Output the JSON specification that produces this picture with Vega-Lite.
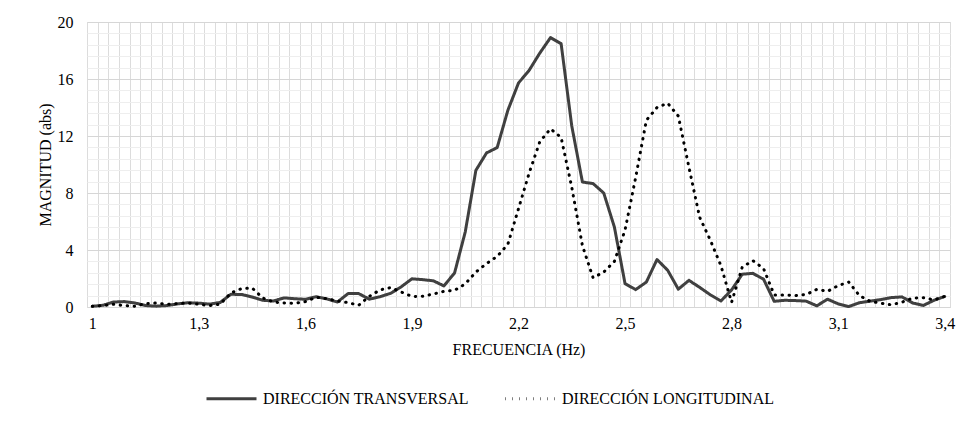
{
  "$schema": "https://vega.github.io/schema/vega-lite/v6.json",
  "width": 863,
  "height": 285,
  "autosize": "none",
  "padding": {"left": 87, "top": 22, "right": 18, "bottom": 114},
  "background": "white",
  "config": {"view": {"stroke": "#d9d9d9"}, "font": "Times New Roman, Liberation Serif, serif"},
  "data": {"values": [
    {"f":1.00,"DIRECCIÓN TRANSVERSAL":0.05,"DIRECCIÓN LONGITUDINAL":0.05},
    {"f":1.03,"DIRECCIÓN TRANSVERSAL":0.12,"DIRECCIÓN LONGITUDINAL":0.10},
    {"f":1.06,"DIRECCIÓN TRANSVERSAL":0.35,"DIRECCIÓN LONGITUDINAL":0.19},
    {"f":1.09,"DIRECCIÓN TRANSVERSAL":0.38,"DIRECCIÓN LONGITUDINAL":0.10},
    {"f":1.12,"DIRECCIÓN TRANSVERSAL":0.28,"DIRECCIÓN LONGITUDINAL":0.05},
    {"f":1.15,"DIRECCIÓN TRANSVERSAL":0.10,"DIRECCIÓN LONGITUDINAL":0.24},
    {"f":1.18,"DIRECCIÓN TRANSVERSAL":0.06,"DIRECCIÓN LONGITUDINAL":0.28},
    {"f":1.21,"DIRECCIÓN TRANSVERSAL":0.10,"DIRECCIÓN LONGITUDINAL":0.19},
    {"f":1.24,"DIRECCIÓN TRANSVERSAL":0.22,"DIRECCIÓN LONGITUDINAL":0.24},
    {"f":1.27,"DIRECCIÓN TRANSVERSAL":0.30,"DIRECCIÓN LONGITUDINAL":0.28},
    {"f":1.30,"DIRECCIÓN TRANSVERSAL":0.27,"DIRECCIÓN LONGITUDINAL":0.19},
    {"f":1.33,"DIRECCIÓN TRANSVERSAL":0.20,"DIRECCIÓN LONGITUDINAL":0.10},
    {"f":1.36,"DIRECCIÓN TRANSVERSAL":0.32,"DIRECCIÓN LONGITUDINAL":0.20},
    {"f":1.39,"DIRECCIÓN TRANSVERSAL":0.89,"DIRECCIÓN LONGITUDINAL":0.98},
    {"f":1.42,"DIRECCIÓN TRANSVERSAL":0.88,"DIRECCIÓN LONGITUDINAL":1.29},
    {"f":1.45,"DIRECCIÓN TRANSVERSAL":0.70,"DIRECCIÓN LONGITUDINAL":1.33},
    {"f":1.48,"DIRECCIÓN TRANSVERSAL":0.47,"DIRECCIÓN LONGITUDINAL":0.63},
    {"f":1.51,"DIRECCIÓN TRANSVERSAL":0.42,"DIRECCIÓN LONGITUDINAL":0.35},
    {"f":1.54,"DIRECCIÓN TRANSVERSAL":0.64,"DIRECCIÓN LONGITUDINAL":0.28},
    {"f":1.57,"DIRECCIÓN TRANSVERSAL":0.58,"DIRECCIÓN LONGITUDINAL":0.26},
    {"f":1.60,"DIRECCIÓN TRANSVERSAL":0.54,"DIRECCIÓN LONGITUDINAL":0.38},
    {"f":1.63,"DIRECCIÓN TRANSVERSAL":0.72,"DIRECCIÓN LONGITUDINAL":0.68},
    {"f":1.66,"DIRECCIÓN TRANSVERSAL":0.57,"DIRECCIÓN LONGITUDINAL":0.59},
    {"f":1.69,"DIRECCIÓN TRANSVERSAL":0.35,"DIRECCIÓN LONGITUDINAL":0.42},
    {"f":1.72,"DIRECCIÓN TRANSVERSAL":0.94,"DIRECCIÓN LONGITUDINAL":0.31},
    {"f":1.75,"DIRECCIÓN TRANSVERSAL":0.94,"DIRECCIÓN LONGITUDINAL":0.12},
    {"f":1.78,"DIRECCIÓN TRANSVERSAL":0.55,"DIRECCIÓN LONGITUDINAL":0.75},
    {"f":1.81,"DIRECCIÓN TRANSVERSAL":0.72,"DIRECCIÓN LONGITUDINAL":1.20},
    {"f":1.84,"DIRECCIÓN TRANSVERSAL":0.96,"DIRECCIÓN LONGITUDINAL":1.36},
    {"f":1.87,"DIRECCIÓN TRANSVERSAL":1.42,"DIRECCIÓN LONGITUDINAL":1.05},
    {"f":1.90,"DIRECCIÓN TRANSVERSAL":1.98,"DIRECCIÓN LONGITUDINAL":0.74},
    {"f":1.93,"DIRECCIÓN TRANSVERSAL":1.92,"DIRECCIÓN LONGITUDINAL":0.75},
    {"f":1.96,"DIRECCIÓN TRANSVERSAL":1.84,"DIRECCIÓN LONGITUDINAL":0.91},
    {"f":1.99,"DIRECCIÓN TRANSVERSAL":1.48,"DIRECCIÓN LONGITUDINAL":1.10},
    {"f":2.02,"DIRECCIÓN TRANSVERSAL":2.39,"DIRECCIÓN LONGITUDINAL":1.17},
    {"f":2.05,"DIRECCIÓN TRANSVERSAL":5.26,"DIRECCIÓN LONGITUDINAL":1.62},
    {"f":2.08,"DIRECCIÓN TRANSVERSAL":9.59,"DIRECCIÓN LONGITUDINAL":2.45},
    {"f":2.11,"DIRECCIÓN TRANSVERSAL":10.81,"DIRECCIÓN LONGITUDINAL":3.05},
    {"f":2.14,"DIRECCIÓN TRANSVERSAL":11.19,"DIRECCIÓN LONGITUDINAL":3.55},
    {"f":2.17,"DIRECCIÓN TRANSVERSAL":13.80,"DIRECCIÓN LONGITUDINAL":4.40},
    {"f":2.20,"DIRECCIÓN TRANSVERSAL":15.72,"DIRECCIÓN LONGITUDINAL":6.90},
    {"f":2.23,"DIRECCIÓN TRANSVERSAL":16.61,"DIRECCIÓN LONGITUDINAL":9.40},
    {"f":2.26,"DIRECCIÓN TRANSVERSAL":17.82,"DIRECCIÓN LONGITUDINAL":11.60},
    {"f":2.29,"DIRECCIÓN TRANSVERSAL":18.90,"DIRECCIÓN LONGITUDINAL":12.50},
    {"f":2.32,"DIRECCIÓN TRANSVERSAL":18.48,"DIRECCIÓN LONGITUDINAL":11.90},
    {"f":2.35,"DIRECCIÓN TRANSVERSAL":12.70,"DIRECCIÓN LONGITUDINAL":8.40},
    {"f":2.38,"DIRECCIÓN TRANSVERSAL":8.77,"DIRECCIÓN LONGITUDINAL":4.30},
    {"f":2.41,"DIRECCIÓN TRANSVERSAL":8.66,"DIRECCIÓN LONGITUDINAL":2.05},
    {"f":2.44,"DIRECCIÓN TRANSVERSAL":8.00,"DIRECCIÓN LONGITUDINAL":2.45},
    {"f":2.47,"DIRECCIÓN TRANSVERSAL":5.61,"DIRECCIÓN LONGITUDINAL":3.20},
    {"f":2.50,"DIRECCIÓN TRANSVERSAL":1.64,"DIRECCIÓN LONGITUDINAL":5.40},
    {"f":2.53,"DIRECCIÓN TRANSVERSAL":1.22,"DIRECCIÓN LONGITUDINAL":9.10},
    {"f":2.56,"DIRECCIÓN TRANSVERSAL":1.75,"DIRECCIÓN LONGITUDINAL":13.10},
    {"f":2.59,"DIRECCIÓN TRANSVERSAL":3.33,"DIRECCIÓN LONGITUDINAL":14.00},
    {"f":2.62,"DIRECCIÓN TRANSVERSAL":2.58,"DIRECCIÓN LONGITUDINAL":14.30},
    {"f":2.65,"DIRECCIÓN TRANSVERSAL":1.25,"DIRECCIÓN LONGITUDINAL":13.40},
    {"f":2.68,"DIRECCIÓN TRANSVERSAL":1.87,"DIRECCIÓN LONGITUDINAL":9.80},
    {"f":2.71,"DIRECCIÓN TRANSVERSAL":1.38,"DIRECCIÓN LONGITUDINAL":6.30},
    {"f":2.74,"DIRECCIÓN TRANSVERSAL":0.86,"DIRECCIÓN LONGITUDINAL":4.70},
    {"f":2.77,"DIRECCIÓN TRANSVERSAL":0.42,"DIRECCIÓN LONGITUDINAL":2.90},
    {"f":2.80,"DIRECCIÓN TRANSVERSAL":1.20,"DIRECCIÓN LONGITUDINAL":0.33},
    {"f":2.83,"DIRECCIÓN TRANSVERSAL":2.30,"DIRECCIÓN LONGITUDINAL":2.80},
    {"f":2.86,"DIRECCIÓN TRANSVERSAL":2.36,"DIRECCIÓN LONGITUDINAL":3.25},
    {"f":2.89,"DIRECCIÓN TRANSVERSAL":1.95,"DIRECCIÓN LONGITUDINAL":2.70},
    {"f":2.92,"DIRECCIÓN TRANSVERSAL":0.40,"DIRECCIÓN LONGITUDINAL":0.85},
    {"f":2.95,"DIRECCIÓN TRANSVERSAL":0.47,"DIRECCIÓN LONGITUDINAL":0.85},
    {"f":2.98,"DIRECCIÓN TRANSVERSAL":0.45,"DIRECCIÓN LONGITUDINAL":0.80},
    {"f":3.01,"DIRECCIÓN TRANSVERSAL":0.41,"DIRECCIÓN LONGITUDINAL":0.88},
    {"f":3.04,"DIRECCIÓN TRANSVERSAL":0.08,"DIRECCIÓN LONGITUDINAL":1.24},
    {"f":3.07,"DIRECCIÓN TRANSVERSAL":0.55,"DIRECCIÓN LONGITUDINAL":1.10},
    {"f":3.10,"DIRECCIÓN TRANSVERSAL":0.22,"DIRECCIÓN LONGITUDINAL":1.50},
    {"f":3.13,"DIRECCIÓN TRANSVERSAL":0.03,"DIRECCIÓN LONGITUDINAL":1.75},
    {"f":3.16,"DIRECCIÓN TRANSVERSAL":0.30,"DIRECCIÓN LONGITUDINAL":0.80},
    {"f":3.19,"DIRECCIÓN TRANSVERSAL":0.41,"DIRECCIÓN LONGITUDINAL":0.40},
    {"f":3.22,"DIRECCIÓN TRANSVERSAL":0.52,"DIRECCIÓN LONGITUDINAL":0.27},
    {"f":3.25,"DIRECCIÓN TRANSVERSAL":0.66,"DIRECCIÓN LONGITUDINAL":0.15},
    {"f":3.28,"DIRECCIÓN TRANSVERSAL":0.71,"DIRECCIÓN LONGITUDINAL":0.34},
    {"f":3.31,"DIRECCIÓN TRANSVERSAL":0.28,"DIRECCIÓN LONGITUDINAL":0.63},
    {"f":3.34,"DIRECCIÓN TRANSVERSAL":0.11,"DIRECCIÓN LONGITUDINAL":0.65},
    {"f":3.37,"DIRECCIÓN TRANSVERSAL":0.47,"DIRECCIÓN LONGITUDINAL":0.50},
    {"f":3.40,"DIRECCIÓN TRANSVERSAL":0.74,"DIRECCIÓN LONGITUDINAL":0.74}
  ]},
  "transform": [{"fold": ["DIRECCIÓN TRANSVERSAL", "DIRECCIÓN LONGITUDINAL"], "as": ["serie", "v"]}],
  "mark": {"type": "line", "strokeWidth": 3, "strokeCap": "round", "strokeJoin": "round"},
  "encoding": {
    "x": {
      "field": "f", "type": "quantitative",
      "scale": {"domain": [0.985, 3.415], "nice": false, "zero": false},
      "axis": {
        "values": [0.985,1.015,1.045,1.075,1.105,1.135,1.165,1.195,1.225,1.255,1.285,1.315,1.345,1.375,1.405,1.435,1.465,1.495,1.525,1.555,1.585,1.615,1.645,1.675,1.705,1.735,1.765,1.795,1.825,1.855,1.885,1.915,1.945,1.975,2.005,2.035,2.065,2.095,2.125,2.155,2.185,2.215,2.245,2.275,2.305,2.335,2.365,2.395,2.425,2.455,2.485,2.515,2.545,2.575,2.605,2.635,2.665,2.695,2.725,2.755,2.785,2.815,2.845,2.875,2.905,2.935,2.965,2.995,3.025,3.055,3.085,3.115,3.145,3.175,3.205,3.235,3.265,3.295,3.325,3.355,3.385,3.415,1,1.3,1.6,1.9,2.2,2.5,2.8,3.1,3.4],
        "labelExpr": "abs(datum.value*100 - round(datum.value*100)) < 0.1 ? replace(format(datum.value, '.1~f'), '.', ',') : ''",
        "gridOpacity": {"condition": {"test": "abs(datum.value*100 - round(datum.value*100)) < 0.1", "value": 0}, "value": 1},
        "gridColor": "#dcdcdc",
        "ticks": false,
        "domain": false,
        "labelOverlap": false,
        "labelFlush": false,
        "labelFont": "Times New Roman, Liberation Serif, serif",
        "labelFontSize": 16,
        "labelColor": "#000000",
        "labelPadding": 8,
        "title": "FRECUENCIA (Hz)",
        "titleFont": "Times New Roman, Liberation Serif, serif",
        "titleFontSize": 16,
        "titleFontWeight": "normal",
        "titleColor": "#000000",
        "titlePadding": 10
      }
    },
    "y": {
      "field": "v", "type": "quantitative",
      "scale": {"domain": [0, 20], "nice": false},
      "axis": {
        "values": [0,0.8,1.6,2.4,3.2,4,4.8,5.6,6.4,7.2,8,8.8,9.6,10.4,11.2,12,12.8,13.6,14.4,15.2,16,16.8,17.6,18.4,19.2,20],
        "labelExpr": "round(datum.value*10) % 40 == 0 ? format(datum.value, 'd') : ''",
        "gridColor": {"condition": {"test": "round(datum.value*10) % 40 == 0", "value": "#d6d6d6"}, "value": "#eeeeee"},
        "ticks": false,
        "domain": false,
        "labelOverlap": false,
        "labelFont": "Times New Roman, Liberation Serif, serif",
        "labelFontSize": 16,
        "labelColor": "#000000",
        "labelPadding": 14,
        "title": "MAGNITUD (abs)",
        "titleFont": "Times New Roman, Liberation Serif, serif",
        "titleFontSize": 16,
        "titleFontWeight": "normal",
        "titleColor": "#000000",
        "titlePadding": 4
      }
    },
    "color": {
      "field": "serie", "type": "nominal",
      "scale": {"domain": ["DIRECCIÓN TRANSVERSAL", "DIRECCIÓN LONGITUDINAL"], "range": ["#404040", "#000000"]},
      "legend": {"title": null, "orient": "none", "legendX": 118, "legendY": 350, "direction": "horizontal", "symbolType": "stroke", "symbolSize": 2500, "symbolStrokeWidth": 3, "labelFont": "Times New Roman, Liberation Serif, serif", "labelFontSize": 16, "labelColor": "#000000", "labelOffset": 5, "columnPadding": 30, "labelLimit": 400}
    },
    "strokeDash": {
      "field": "serie", "type": "nominal",
      "scale": {"domain": ["DIRECCIÓN TRANSVERSAL", "DIRECCIÓN LONGITUDINAL"], "range": [[1, 0], [0.5, 6.5]]},
      "legend": {"title": null, "orient": "none", "legendX": 118, "legendY": 350, "direction": "horizontal", "symbolType": "stroke", "symbolSize": 2500, "symbolStrokeWidth": 3, "labelFont": "Times New Roman, Liberation Serif, serif", "labelFontSize": 16, "labelColor": "#000000", "labelOffset": 5, "columnPadding": 30, "labelLimit": 400}
    }
  }
}
